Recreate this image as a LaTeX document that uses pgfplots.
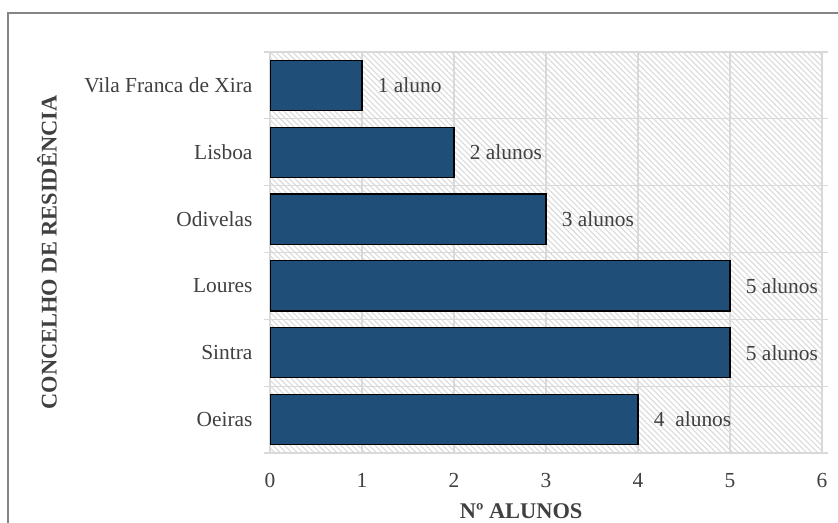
\documentclass[border=0pt]{standalone}
\usepackage{pgfplots}
\pgfplotsset{compat=1.18}
\usetikzlibrary{patterns.meta}
\usepackage{fontspec}
\setmainfont{Liberation Serif}

\definecolor{barblue}{HTML}{1F4E79}
\definecolor{txt}{HTML}{404040}
\definecolor{gridc}{HTML}{D9D9D9}
\definecolor{hatch}{HTML}{DADADA}
\definecolor{frame}{HTML}{858585}

\begin{document}
\begin{tikzpicture}
\begin{axis}[
  at={(270bp,70bp)}, anchor=south west,
  scale only axis, width=552bp, height=401bp,
  xbar, bar width=0.75,
  xmin=0, xmax=6, ymin=-0.5, ymax=5.5,
  xtick={0,...,6}, ytick={0,...,5},
  yticklabels={Oeiras,Sintra,Loures,Odivelas,Lisboa,Vila Franca de Xira},
  minor ytick={-0.5,0.5,...,5.5},
  xmajorgrids, yminorgrids,
  grid style={gridc, line width=1.2bp},
  tick align=outside,
  major tick length=0pt, minor tick length=6bp,
  major tick style={draw=none},
  minor tick style={gridc, line width=1.2bp},
  axis line style={gridc, line width=1.2bp},
  axis background/.style={pattern={Lines[angle=-45,distance=4bp,line width=1.1bp]}, pattern color=hatch},
  /pgf/number format/assume math mode=true,
  tick label style={font=\fontsize{21.5}{25}\selectfont, text=txt},
  yticklabel style={xshift=-14bp},
  xticklabel style={yshift=-17bp},
  xlabel={Nº ALUNOS},
  ylabel={CONCELHO DE RESIDÊNCIA},
  label style={font=\fontsize{22.5}{26}\selectfont\bfseries, text=txt},
  xlabel style={at={(axis description cs:0.455,0)}, anchor=center, yshift=-58bp},
  ylabel style={at={(axis description cs:-0.404,0.5)}, anchor=center},
  nodes near coords,
  point meta=explicit symbolic,
  every node near coord/.append style={font=\fontsize{21.5}{25}\selectfont, text=txt, anchor=west, xshift=12bp},
]
\addplot[fill=barblue, draw=black, line width=1.2bp] coordinates {
  (4,0) [4\ \ alunos]
  (5,1) [5 alunos]
  (5,2) [5 alunos]
  (3,3) [3 alunos]
  (2,4) [2 alunos]
  (1,5) [1 aluno]
};
\end{axis}
% chart-area frame
\draw[frame, line width=1.3bp] (8bp,-5bp) -- (8bp,510bp) -- (850bp,510bp);
\pgfresetboundingbox
\path[use as bounding box] (0,0) rectangle (838bp,523bp);
\end{tikzpicture}
\end{document}
